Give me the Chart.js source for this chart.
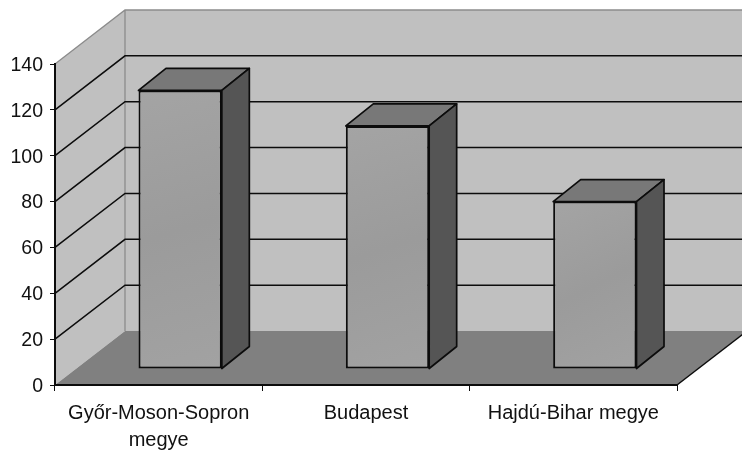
<!DOCTYPE html>
<html><head><meta charset="utf-8">
<style>html,body{margin:0;padding:0;background:#fff}canvas{display:block;filter:blur(0.5px)}</style>
<script src="https://cdn.jsdelivr.net/npm/chart.js@4"></script></head>
<body><canvas id="c" width="742" height="450"></canvas>
<script>
const categories = [["Győr-Moson-Sopron","megye"],"Budapest","Hajdú-Bihar megye"];
const values = [121.5,106,73];
const yMax = 140, yStep = 20;
const WALL_DX = 70, WALL_DY = 54;
const BAR_SHIFT_X = 21.5, BAR_SHIFT_Y = 16;
const BAR_DX = 27.5, BAR_DY = 22;
const LINE = "#0c0c0c";

function poly(ctx, pts, fill, stroke, lw){
  ctx.beginPath();
  pts.forEach((p,i)=> i?ctx.lineTo(p[0],p[1]):ctx.moveTo(p[0],p[1]));
  ctx.closePath();
  if(fill){ctx.fillStyle=fill;ctx.fill();}
  if(stroke){ctx.strokeStyle=stroke;ctx.lineWidth=lw||1;ctx.stroke();}
}
const walls3d = {
  id:"walls3d",
  beforeDraw(chart){
    const {ctx,scales:{x,y}}=chart;
    const l=x.left,r=x.right,b=y.getPixelForValue(0),t=y.getPixelForValue(yMax);
    const dx=WALL_DX,dy=WALL_DY;
    ctx.save();
    poly(ctx,[[l+dx,t-dy],[r+dx,t-dy],[r+dx,b-dy],[l+dx,b-dy]],"#c0c0c0");
    poly(ctx,[[l,t],[l+dx,t-dy],[l+dx,b-dy],[l,b]],"#c0c0c0");
    poly(ctx,[[l,b],[l+dx,b-dy],[r+dx,b-dy],[r,b]],"#808080");
    ctx.lineWidth=1.3;ctx.strokeStyle="#8c8c8c";
    ctx.beginPath();ctx.moveTo(l,t);ctx.lineTo(l+dx,t-dy);ctx.lineTo(r+dx,t-dy);
    ctx.moveTo(l+dx,t-dy);ctx.lineTo(l+dx,b-dy);ctx.stroke();
    ctx.strokeStyle=LINE;ctx.lineWidth=1.5;
    for(const tk of y.ticks){
      if(tk.value===0||tk.value===yMax)continue;
      const py=y.getPixelForValue(tk.value);
      ctx.beginPath();ctx.moveTo(l,py);ctx.lineTo(l+dx,py-dy);ctx.lineTo(r+dx,py-dy);ctx.stroke();
    }
    ctx.beginPath();ctx.moveTo(r,b);ctx.lineTo(r+dx,b-dy);ctx.stroke();
    ctx.restore();
  },
  beforeDatasetDraw(chart){
    chart.ctx.save();
    chart.ctx.translate(BAR_SHIFT_X,-BAR_SHIFT_Y);
  },
  afterDatasetDraw(chart,args){
    const ctx=chart.ctx;
    for(const bar of args.meta.data){
      const xl=bar.x-bar.width/2,xr=bar.x+bar.width/2,t=bar.y,b=bar.base;
      ctx.lineJoin="round";
      poly(ctx,[[xl,t],[xl+BAR_DX,t-BAR_DY],[xr+BAR_DX,t-BAR_DY],[xr,t]],"#787878",LINE,1.7);
      poly(ctx,[[xr,t],[xr+BAR_DX,t-BAR_DY],[xr+BAR_DX,b-BAR_DY],[xr,b]],"#555555",LINE,1.7);
    }
    ctx.restore();
  }
};
new Chart(document.getElementById("c"),{
  type:"bar",
  data:{labels:categories,datasets:[{data:values,
    backgroundColor(c){
      const s=c.chart.scales;
      if(!s.x||!s.y||c.dataIndex===undefined)return "#a0a0a0";
      const px=s.x.getPixelForValue(c.dataIndex),top=s.y.getPixelForValue(values[c.dataIndex]),bot=s.y.getPixelForValue(0);
      if(![px,top,bot].every(Number.isFinite))return "#a0a0a0";
      const g=c.chart.ctx.createLinearGradient(px-41,top,px+41,bot);
      g.addColorStop(0,"#a4a4a4");g.addColorStop(0.5,"#9b9b9b");g.addColorStop(1,"#a2a2a2");
      return g;
    },
    borderColor:LINE,borderWidth:2,borderSkipped:false,
    barPercentage:0.402,categoryPercentage:1,clip:false}]},
  plugins:[walls3d],
  options:{
    responsive:false,animation:false,
    layout:{padding:{top:64,right:65,left:0,bottom:0}},
    plugins:{legend:{display:false},tooltip:{enabled:false}},
    scales:{
      x:{afterFit(s){s.height=65;},
        grid:{drawOnChartArea:false,drawTicks:true,tickLength:6,color:LINE,offset:true},
        border:{display:true,color:LINE,width:2},
        ticks:{color:"#111",font:{family:"Liberation Sans",size:20,lineHeight:1.35},padding:9,maxRotation:0,autoSkip:false}},
      y:{min:0,max:yMax,afterFit(s){s.width=55;},
        grid:{drawOnChartArea:false,drawTicks:true,tickLength:5,color:LINE},
        border:{display:true,color:LINE,width:2},
        ticks:{stepSize:yStep,color:"#111",font:{family:"Liberation Sans",size:19.5},padding:7,labelOffset:1.5}}
    }
  }
});
</script></body></html>
